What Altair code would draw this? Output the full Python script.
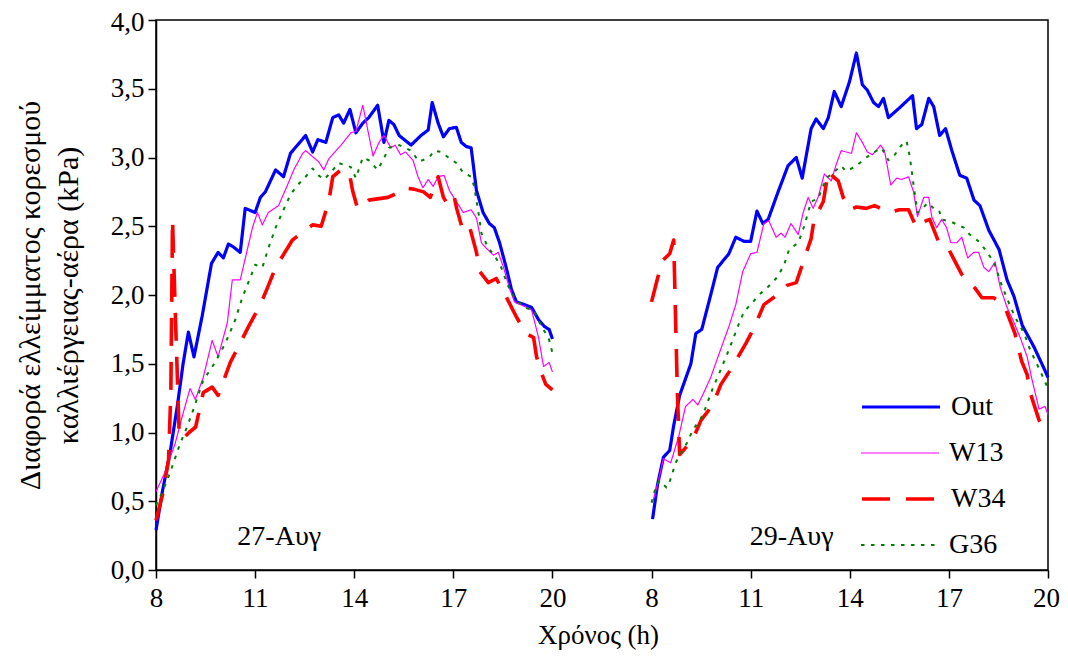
import json
import altair as alt
import pandas as pd

# ---------------- data ----------------
series_names = ["Out", "W13", "W34", "G36"]
series_colors = ["#0000FF", "#FF00FF", "#FF0000", "#008000"]
series_widths = [3.2, 1.2, 3.6, 2.0]
series_dashes = [[1, 0], [1, 0], [28, 16], [3.5, 6.5]]
# stroke widths come from a point scale over this ordered list (spare slots keep the steps uneven)
width_order = ["W13", "_a", "G36", "_b", "_c", "Out", "W34"]
width_range = [1.2, 3.6]

day_start_hour = 8
day_positions = [0, 15]          # axis position where each day's 08:00 sits

# (hour, kPa) readings, day 1 (27-Aug)
out_day1 = [(8.0, 0.29), (8.2, 0.58), (8.43, 0.86), (8.65, 1.2), (8.82, 1.5), (8.98, 1.73), (9.15, 1.55),
            (9.4, 1.85), (9.68, 2.23), (9.88, 2.31), (10.04, 2.27), (10.19, 2.37), (10.34, 2.35), (10.55, 2.31),
            (10.7, 2.63), (11.0, 2.60), (11.16, 2.71), (11.31, 2.75), (11.62, 2.91), (11.86, 2.86), (12.07, 3.03),
            (12.53, 3.16), (12.74, 3.04), (12.9, 3.13), (13.14, 3.11), (13.35, 3.29), (13.53, 3.31), (13.68, 3.25),
            (13.87, 3.35), (14.05, 3.18), (14.26, 3.25), (14.44, 3.29), (14.71, 3.38), (14.9, 3.11), (15.05, 3.27),
            (15.2, 3.24), (15.36, 3.16), (15.72, 3.09), (16.02, 3.16), (16.24, 3.20), (16.36, 3.40), (16.54, 3.25),
            (16.7, 3.15), (16.88, 3.21), (17.09, 3.22), (17.24, 3.11), (17.39, 3.08), (17.54, 3.07), (17.7, 2.76),
            (17.9, 2.60), (18.09, 2.52), (18.24, 2.49), (18.4, 2.38), (18.6, 2.20), (18.76, 2.04), (18.91, 1.95),
            (19.15, 1.93), (19.37, 1.91), (19.58, 1.82), (19.76, 1.77), (19.9, 1.75), (20.0, 1.68)]
w13_day1 = [(8.0, 0.57), (8.27, 0.71), (8.58, 0.92), (8.82, 1.14), (9.03, 1.32), (9.19, 1.24), (9.43, 1.40),
            (9.7, 1.67), (9.88, 1.55), (10.16, 1.80), (10.31, 2.11), (10.55, 2.11), (10.92, 2.49), (11.07, 2.60),
            (11.22, 2.51), (11.4, 2.60), (11.71, 2.65), (11.98, 2.80), (12.17, 2.91), (12.44, 3.03), (12.53, 3.05),
            (12.77, 3.00), (12.92, 2.97), (13.08, 2.91), (13.23, 2.99), (13.6, 3.09), (13.9, 3.18), (14.05, 3.19),
            (14.26, 3.38), (14.57, 3.01), (14.75, 3.11), (14.9, 3.16), (15.11, 3.07), (15.24, 3.09), (15.4, 3.02),
            (15.55, 3.04), (15.78, 2.98), (15.93, 2.86), (16.08, 2.78), (16.24, 2.84), (16.39, 2.79), (16.54, 2.86),
            (16.72, 2.87), (16.88, 2.76), (17.09, 2.68), (17.3, 2.60), (17.54, 2.62), (17.7, 2.56), (17.85, 2.38),
            (18.0, 2.34), (18.21, 2.29), (18.36, 2.31), (18.52, 2.20), (18.7, 2.05), (18.85, 1.95), (19.22, 1.91),
            (19.37, 1.89), (19.58, 1.69), (19.73, 1.48), (19.9, 1.51), (20.0, 1.44)]
w34_day1 = [(8.0, 0.36), (8.2, 0.55), (8.38, 0.80), (8.45, 1.3), (8.5, 2.55), (8.58, 1.9), (8.7, 1.0),
            (8.8, 0.95), (9.0, 1.0), (9.2, 1.04), (9.43, 1.29), (9.7, 1.33), (9.88, 1.27), (10.05, 1.38),
            (10.25, 1.51), (10.55, 1.65), (10.8, 1.77), (11.16, 1.93), (11.37, 2.05), (11.62, 2.20), (12.13, 2.40),
            (12.74, 2.51), (13.0, 2.50), (13.23, 2.68), (13.35, 2.86), (13.6, 2.91), (13.85, 2.89), (13.95, 2.76),
            (14.1, 2.63), (14.44, 2.69), (15.02, 2.71), (15.3, 2.74), (15.5, 2.78), (15.8, 2.77), (16.1, 2.75),
            (16.3, 2.71), (16.54, 2.86), (16.7, 2.71), (16.85, 2.65), (17.03, 2.71), (17.1, 2.63), (17.3, 2.46),
            (17.5, 2.49), (17.7, 2.31), (17.8, 2.17), (18.06, 2.09), (18.3, 2.12), (18.55, 2.01), (18.91, 1.84),
            (19.2, 1.72), (19.43, 1.69), (19.52, 1.55), (19.67, 1.43), (19.8, 1.35), (20.0, 1.31)]
g36_day1 = [(8.0, 0.47), (8.18, 0.56), (8.43, 0.71), (8.73, 0.92), (8.94, 1.04), (9.12, 1.16), (9.43, 1.38),
            (9.79, 1.51), (10.1, 1.65), (10.4, 1.82), (10.61, 1.98), (10.86, 2.13), (11.0, 2.22), (11.22, 2.20),
            (11.4, 2.34), (11.62, 2.49), (11.86, 2.62), (12.07, 2.73), (12.29, 2.80), (12.53, 2.86), (12.74, 2.92),
            (12.92, 2.87), (13.08, 2.84), (13.29, 2.89), (13.53, 2.96), (13.9, 2.93), (14.05, 2.85), (14.26, 3.00),
            (14.44, 2.98), (14.71, 2.91), (14.87, 2.98), (15.05, 3.07), (15.36, 3.09), (15.72, 3.05), (15.96, 2.97),
            (16.27, 3.00), (16.42, 3.05), (16.63, 3.04), (16.85, 3.00), (17.09, 2.96), (17.3, 2.89), (17.54, 2.86),
            (17.63, 2.79), (17.76, 2.60), (17.85, 2.45), (18.06, 2.34), (18.24, 2.29), (18.45, 2.20), (18.67, 2.06),
            (18.85, 1.98), (19.15, 1.91), (19.43, 1.89), (19.67, 1.77), (19.88, 1.69), (20.0, 1.58)]

# (hour, kPa) readings, day 2 (29-Aug)
out_day2 = [(8.03, 0.37), (8.18, 0.62), (8.36, 0.82), (8.55, 0.87), (8.67, 1.05), (8.85, 1.27), (9.19, 1.50),
            (9.34, 1.72), (9.52, 1.75), (9.79, 2.00), (10.0, 2.20), (10.34, 2.30), (10.55, 2.42), (10.8, 2.39),
            (11.0, 2.39), (11.19, 2.61), (11.37, 2.52), (11.53, 2.55), (11.83, 2.75), (12.13, 2.94), (12.38, 3.00),
            (12.56, 2.85), (12.83, 3.21), (12.98, 3.28), (13.2, 3.21), (13.35, 3.29), (13.53, 3.48), (13.74, 3.37),
            (13.99, 3.55), (14.2, 3.76), (14.38, 3.53), (14.53, 3.49), (14.72, 3.40), (14.87, 3.37), (15.02, 3.43),
            (15.17, 3.29), (15.5, 3.36), (15.9, 3.45), (16.02, 3.21), (16.18, 3.24), (16.39, 3.43), (16.54, 3.37),
            (16.72, 3.16), (16.9, 3.21), (17.09, 3.05), (17.33, 2.87), (17.54, 2.85), (17.76, 2.69), (17.94, 2.65),
            (18.21, 2.47), (18.52, 2.33), (18.76, 2.11), (18.97, 1.99), (19.22, 1.78), (19.58, 1.62), (19.91, 1.45),
            (20.0, 1.40)]
w13_day2 = [(8.03, 0.49), (8.21, 0.65), (8.36, 0.81), (8.58, 0.78), (8.82, 0.97), (9.03, 1.19), (9.25, 1.24),
            (9.4, 1.20), (9.58, 1.29), (9.79, 1.40), (10.04, 1.57), (10.34, 1.77), (10.55, 1.93), (10.76, 2.17),
            (11.0, 2.30), (11.19, 2.31), (11.4, 2.52), (11.55, 2.54), (11.77, 2.42), (11.92, 2.45), (12.04, 2.42),
            (12.22, 2.52), (12.44, 2.44), (12.59, 2.60), (12.74, 2.71), (12.89, 2.63), (13.04, 2.71), (13.23, 2.88),
            (13.44, 2.83), (13.59, 2.95), (13.74, 3.05), (14.05, 3.03), (14.2, 3.18), (14.38, 3.11), (14.53, 3.04),
            (14.69, 3.02), (14.93, 3.09), (15.05, 3.05), (15.24, 2.80), (15.42, 2.85), (15.57, 2.84), (15.78, 2.86),
            (15.93, 2.75), (16.05, 2.57), (16.24, 2.71), (16.39, 2.71), (16.48, 2.57), (16.63, 2.49), (16.78, 2.55),
            (16.93, 2.49), (17.06, 2.38), (17.24, 2.38), (17.39, 2.42), (17.57, 2.27), (17.75, 2.31), (17.9, 2.31),
            (18.06, 2.20), (18.21, 2.17), (18.4, 2.24), (18.55, 2.06), (18.76, 1.91), (18.97, 1.80), (19.16, 1.69),
            (19.37, 1.55), (19.52, 1.38), (19.73, 1.17), (19.91, 1.19), (20.0, 1.13)]
w34_day2 = [(8.0, 1.95), (8.18, 2.12), (8.33, 2.25), (8.55, 2.30), (8.67, 2.40), (8.72, 1.9), (8.78, 1.3),
            (8.85, 0.84), (9.0, 0.88), (9.25, 0.95), (9.5, 1.09), (9.85, 1.20), (10.1, 1.35), (10.4, 1.46),
            (10.86, 1.65), (11.1, 1.76), (11.4, 1.93), (11.86, 2.01), (12.1, 2.07), (12.38, 2.09), (12.59, 2.24),
            (12.83, 2.41), (12.92, 2.55), (13.2, 2.68), (13.35, 2.90), (13.5, 2.86), (13.65, 2.83), (13.8, 2.71),
            (14.0, 2.62), (14.2, 2.64), (14.5, 2.63), (14.75, 2.65), (15.2, 2.60), (15.5, 2.62), (15.78, 2.62),
            (16.02, 2.49), (16.2, 2.53), (16.42, 2.55), (16.7, 2.38), (17.0, 2.33), (17.39, 2.15), (17.79, 2.05),
            (18.0, 1.98), (18.36, 1.98), (18.7, 1.91), (19.0, 1.72), (19.2, 1.52), (19.37, 1.42), (19.46, 1.29),
            (19.73, 1.09), (20.0, 0.98)]
g36_day2 = [(8.0, 0.49), (8.1, 0.58), (8.24, 0.65), (8.45, 0.60), (8.52, 0.62), (8.73, 0.78), (8.88, 0.85),
            (9.09, 0.93), (9.25, 1.02), (9.49, 1.10), (9.62, 1.17), (9.85, 1.32), (10.1, 1.46), (10.34, 1.60),
            (10.61, 1.77), (10.8, 1.88), (11.0, 1.93), (11.25, 2.00), (11.53, 2.06), (11.77, 2.12), (12.0, 2.21),
            (12.16, 2.33), (12.44, 2.38), (12.62, 2.50), (12.83, 2.68), (13.04, 2.70), (13.29, 2.85), (13.5, 2.89),
            (13.74, 2.94), (13.88, 2.90), (14.14, 2.93), (14.3, 2.96), (14.5, 3.00), (14.75, 3.04), (14.96, 3.07),
            (15.17, 2.98), (15.36, 3.02), (15.6, 3.10), (15.72, 3.12), (15.82, 3.00), (15.93, 2.80), (16.05, 2.60),
            (16.24, 2.64), (16.36, 2.67), (16.54, 2.63), (16.7, 2.62), (16.78, 2.55), (17.09, 2.53), (17.45, 2.49),
            (17.63, 2.44), (17.9, 2.39), (18.1, 2.33), (18.36, 2.24), (18.6, 2.07), (18.82, 1.94), (19.0, 1.84),
            (19.28, 1.72), (19.46, 1.60), (19.76, 1.45), (20.0, 1.32)]

date_labels = ["27-Αυγ", "29-Αυγ"]
date_label_days = [0, 1]
date_label_hours = [11.73, 12.24]
date_label_values = [0.18, 0.18]

x_tick_positions = [0, 3, 6, 9, 12, 15, 18, 21, 24, 27]
x_tick_labels = ["8", "11", "14", "17", "20", "8", "11", "14", "17", "20"]
y_tick_values = [0, 0.5, 1, 1.5, 2, 2.5, 3, 3.5, 4]

# ---------------- build table ----------------
readings = {
    "Out": [out_day1, out_day2],
    "W13": [w13_day1, w13_day2],
    "W34": [w34_day1, w34_day2],
    "G36": [g36_day1, g36_day2],
}
rows = []
for name in series_names:
    for d, pts in enumerate(readings[name]):
        for h, v in pts:
            rows.append({"series": name, "day": d,
                         "pos": day_positions[d] + h - day_start_hour, "value": v})
df = pd.DataFrame(rows)

labels_df = pd.DataFrame({
    "text": date_labels,
    "pos": [day_positions[d] + h - day_start_hour for d, h in zip(date_label_days, date_label_hours)],
    "value": date_label_values,
})

FONT = "Liberation Serif"

x_scale = alt.Scale(domain=[0, 27], nice=False, zero=False)
y_scale = alt.Scale(domain=[0, 4], nice=False)

label_expr_x = f"{json.dumps(x_tick_labels)}[indexof({json.dumps(x_tick_positions)}, datum.value)]"

# one single-entry legend per series (each on its own channel), stacked in the lower right
LEG_X, LEG_Y0, LEG_ROW = 704, 364, 46


def one_legend(row, name, **kw):
    i = series_names.index(name)
    return alt.Legend(
        title=None, orient="none", legendX=LEG_X, legendY=LEG_Y0 + row * LEG_ROW, values=[name],
        symbolType="stroke", symbolSize=6084, clipHeight=LEG_ROW, padding=0, symbolOffset=0,
        symbolStrokeWidth=series_widths[i],
        labelFont=FONT, labelFontSize=28, labelColor="black", labelOffset=9, **kw)


def rotated(lst, k):
    return lst[k:] + lst[:k]


dash_domain = rotated(series_names, 2)
dash_range = rotated(series_dashes, 2)
opacity_domain = rotated(series_names, 3)

# keep the outermost tick labels inside the page
x_label_offset = {"condition": {"test": f"datum.value == {x_tick_positions[-1]}", "value": -2}, "value": 0}
y_label_offset = {"condition": {"test": f"datum.value == {y_tick_values[-1]}", "value": 2}, "value": 0}

lines = alt.Chart(df).mark_line(strokeCap="butt", strokeJoin="round").encode(
    x=alt.X("pos:Q", scale=x_scale,
            axis=alt.Axis(values=x_tick_positions, labelExpr=label_expr_x, title="Χρόνος (h)",
                          labelOffset=x_label_offset,
                          titleY=73, titleBaseline="alphabetic", titleX=442)),
    y=alt.Y("value:Q", scale=y_scale,
            axis=alt.Axis(values=y_tick_values,
                          labelExpr="replace(format(datum.value, '.1f'), '.', ',')",
                          labelOffset=y_label_offset,
                          title=["Διαφορά ελλείμματος κορεσμού", "καλλιέργειας-αέρα (kPa)"],
                          titleX=-126, titleY=275, titleAngle=-90, titleBaseline="middle",
                          titleAlign="center", titleLineHeight=38, titleFontSize=30)),
    color=alt.Color("series:N", scale=alt.Scale(domain=series_names, range=series_colors),
                    legend=one_legend(0, "Out")),
    strokeWidth=alt.StrokeWidth("series:N", scale=alt.Scale(type="point", domain=width_order,
                                                            range=width_range, padding=0),
                                legend=one_legend(1, "W13", symbolStrokeColor=series_colors[1])),
    strokeDash=alt.StrokeDash("series:N", scale=alt.Scale(domain=dash_domain, range=dash_range),
                              legend=one_legend(2, "W34", symbolStrokeColor=series_colors[2])),
    opacity=alt.Opacity("series:N", scale=alt.Scale(type="point", domain=opacity_domain, range=[1, 1]),
                        legend=one_legend(3, "G36", symbolStrokeColor=series_colors[3],
                                          symbolDash=series_dashes[3])),
    detail="day:N",
)

texts = alt.Chart(labels_df).mark_text(font=FONT, fontSize=28, align="center", baseline="alphabetic",
                                       color="black").encode(
    x=alt.X("pos:Q", scale=x_scale),
    y=alt.Y("value:Q", scale=y_scale),
    text="text:N",
)

chart = alt.layer(lines, texts).properties(
    width=892, height=550,
    autosize=alt.AutoSizeParams(type="none"),
    padding={"left": 148, "top": 12, "right": 12, "bottom": 80},
    background="white",
).configure_view(
    stroke="black", strokeWidth=1.5
).configure_axis(
    grid=False, domainColor="black", domainWidth=1.5, tickColor="black", tickWidth=1.5, tickSize=8,
    labelFont=FONT, labelFontSize=27, labelColor="black", titleFont=FONT, titleFontSize=27,
    titleColor="black", titleFontWeight="normal",
).configure_axisX(
    labelPadding=7, labelFlush=False, labelOverlap=False
).configure_axisY(
    labelPadding=4, labelOverlap=False
)

chart.save("out.html", embed_options={"renderer": "svg", "actions": False})
